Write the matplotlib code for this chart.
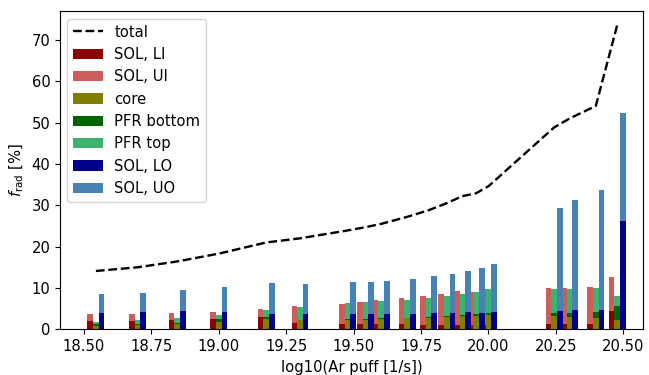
import numpy as np
import matplotlib
matplotlib.use('Agg')
import matplotlib.pyplot as plt

plt.rcParams['font.size'] = 10.6

# Ar puff rates [1/s]
puff = [3.5e18, 5e18, 7e18, 1e19, 1.5e19, 2e19, 3e19, 3.5e19, 4e19, 5e19,
        6e19, 7e19, 8e19, 9e19, 1e20, 1.75e20, 2e20, 2.5e20, 3e20]
total = [14.1, 15.0, 16.4, 18.3, 21.0, 22.0, 23.9, 24.7, 25.5, 27.2,
         28.8, 30.5, 32.2, 32.9, 34.6, 48.8, 51.0, 54.0, 73.5]

# radiated fraction per region [%]
sol_li = [2.0, 2.0, 2.3, 2.5, 3.0, 1.5, 1.3, 1.3, 1.3, 1.3,
          1.05, 1.05, 1.05, 1.05, 1.05, 1.3, 1.3, 1.3, 4.4]
sol_ui = [1.7, 1.7, 1.7, 1.7, 1.9, 4.15, 4.8, 5.3, 5.8, 6.3,
          7.05, 7.45, 8.25, 7.95, 8.65, 8.7, 8.7, 8.9, 8.2]
core = [0.9, 1.0, 1.3, 1.8, 2.5, 2.25, 2.25, 2.25, 2.5, 2.7,
        2.7, 3.0, 3.2, 3.2, 3.5, 3.2, 2.9, 2.7, 2.25]
pfr_bottom = [0.3, 0.2, 0.2, 0.7, 0.5, 0.1, 0.25, 0.25, 0.2, 0.1,
              0.3, 0.2, 0.3, 0.5, 0.45, 0.75, 1.05, 1.5, 3.4]
pfr_top = [0.6, 1.05, 1.2, 1.0, 1.7, 3.05, 3.85, 4.1, 4.15, 4.3,
           4.6, 4.9, 5.0, 5.3, 5.8, 5.8, 5.8, 5.8, 2.45]
sol_lo = [3.95, 4.2, 4.4, 4.2, 3.7, 3.7, 3.7, 3.7, 3.7, 3.7,
          3.95, 3.95, 4.2, 3.95, 4.2, 4.4, 4.65, 4.65, 26.2]
sol_uo = [4.55, 4.6, 5.1, 6.0, 7.5, 7.3, 7.8, 7.8, 8.0, 8.4,
          8.95, 9.45, 9.9, 10.85, 11.6, 25.0, 26.65, 29.05, 26.1]

x = np.log10(puff)
w = 0.021

fig = plt.figure(figsize=(6.49, 3.75), dpi=100)
ax = fig.add_axes([60/649, 45.7/375, 583/649, 318/375])

ax.plot(x, total, 'k--', lw=1.7, label='total')

sol_li = np.array(sol_li)
core = np.array(core)
pfr_bottom = np.array(pfr_bottom)
sol_lo = np.array(sol_lo)

ax.bar(x - w, sol_li, w, color='darkred', label='SOL, LI')
ax.bar(x - w, sol_ui, w, bottom=sol_li, color='indianred', label='SOL, UI')
ax.bar(x, core, w, color='olive', label='core')
ax.bar(x, pfr_bottom, w, bottom=core, color='darkgreen', label='PFR bottom')
ax.bar(x, pfr_top, w, bottom=core + pfr_bottom, color='mediumseagreen', label='PFR top')
ax.bar(x + w, sol_lo, w, color='darkblue', label='SOL, LO')
ax.bar(x + w, sol_uo, w, bottom=sol_lo, color='steelblue', label='SOL, UO')

ax.set_xlim(18.411, 20.573)
ax.set_ylim(0, 76.9)
ax.set_xticks([18.5, 18.75, 19.0, 19.25, 19.5, 19.75, 20.0, 20.25, 20.5])
ax.set_xlabel('log10(Ar puff [1/s])')
ax.set_ylabel(r'$f_\mathrm{rad}$ [%]')
ax.legend(loc='upper left')

fig.savefig('out.png', dpi=100)
